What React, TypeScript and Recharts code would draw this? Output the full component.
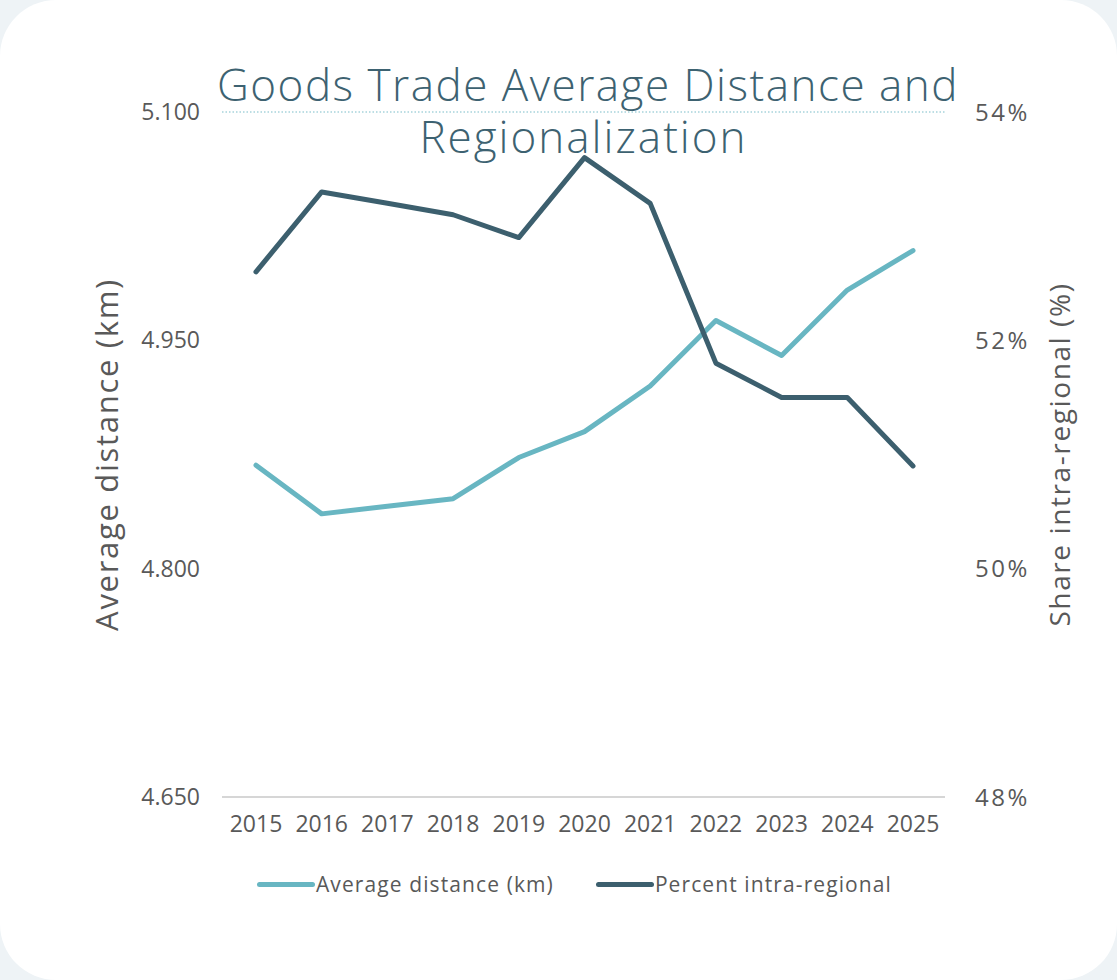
import React from 'react';
import { ComposedChart, Line, XAxis, YAxis, CartesianGrid } from 'recharts';

const years = ['2015', '2016', '2017', '2018', '2019', '2020', '2021', '2022', '2023', '2024', '2025'];
const avgDistance = [4868, 4836, 4841, 4846, 4873, 4890, 4920, 4963, 4940, 4983, 5009];
const intraRegional = [52.6, 53.3, 53.2, 53.1, 52.9, 53.6, 53.2, 51.8, 51.5, 51.5, 50.9];
const leftTicks = [4650, 4800, 4950, 5100];
const rightTicks = [48, 50, 52, 54];

const series = [
  { key: 'distance', name: 'Average distance (km)', color: '#68b6c2', axis: 'left' },
  { key: 'intra', name: 'Percent intra-regional', color: '#3c5f6e', axis: 'right' },
];

const data = years.map((year, i) => ({
  year,
  distance: avgDistance[i],
  intra: intraRegional[i],
}));

const FONT = '"Open Sans", "Noto Sans", sans-serif';
const TICK = { fill: '#595959', fontSize: 23, fontFamily: FONT };

const titleLine = {
  position: 'absolute' as const,
  left: 222,
  width: 723,
  textAlign: 'center' as const,
  color: '#3d6271',
  fontSize: 44,
  letterSpacing: 1.5,
  lineHeight: '44px',
  fontWeight: 300,
  whiteSpace: 'nowrap' as const,
  pointerEvents: 'none' as const,
};

export default function App() {
  return (
    <div
      style={{
        position: 'absolute',
        left: 0,
        top: 0,
        width: 1117,
        height: 980,
        background: '#eef3f6',
        fontFamily: FONT,
      }}
    >
      <div
        style={{
          position: 'absolute',
          left: 0,
          top: 0,
          width: 1117,
          height: 980,
          background: '#ffffff',
          borderRadius: 56,
        }}
      />
      <ComposedChart
        width={1117}
        height={980}
        data={data}
        margin={{ top: 112, right: 0, bottom: 123, left: 0 }}
        style={{ position: 'absolute', left: 0, top: 0 }}
      >
        <CartesianGrid
          vertical={false}
          stroke="#a6d3db"
          strokeWidth={1.5}
          strokeDasharray="1.5 2"
        />
        <XAxis
          dataKey="year"
          height={60}
          padding={{ left: 34, right: 32 }}
          tick={TICK}
          tickLine={false}
          tickSize={0}
          tickMargin={19}
          axisLine={{ stroke: '#d6d6d6', strokeWidth: 2 }}
          interval={0}
        />
        <YAxis
          yAxisId="left"
          orientation="left"
          width={222}
          domain={[4650, 5100]}
          ticks={leftTicks}
          tickFormatter={(v) => (v / 1000).toFixed(3)}
          tick={TICK}
          tickLine={false}
          axisLine={false}
          tickSize={0}
          tickMargin={22}
          label={{
            value: 'Average distance (km)',
            angle: -90,
            position: 'insideLeft',
            offset: 107,
            style: { textAnchor: 'middle', fill: '#595959', fontSize: 31, letterSpacing: 1.7, fontFamily: FONT },
          }}
        />
        <YAxis
          yAxisId="right"
          orientation="right"
          width={172}
          domain={[48, 54]}
          ticks={rightTicks}
          tickFormatter={(v) => `${v}%`}
          tick={{ ...TICK, fontSize: 24, letterSpacing: 2.5 }}
          tickLine={false}
          axisLine={false}
          tickSize={0}
          tickMargin={30}
          label={{
            value: 'Share intra-regional (%)',
            angle: -90,
            position: 'insideRight',
            offset: 57,
            style: { textAnchor: 'middle', fill: '#595959', fontSize: 28, letterSpacing: 1.6, fontFamily: FONT },
          }}
        />
        {series.map((s) => (
          <Line
            key={s.key}
            yAxisId={s.axis}
            dataKey={s.key}
            name={s.name}
            type="linear"
            stroke={s.color}
            strokeWidth={5}
            strokeLinejoin="round"
            strokeLinecap="round"
            dot={false}
            activeDot={false}
            isAnimationActive={false}
          />
        ))}
      </ComposedChart>
      <div style={{ ...titleLine, top: 62, left: 217 }}>Goods Trade Average Distance and</div>
      <div style={{ ...titleLine, top: 114, letterSpacing: 2 }}>Regionalization</div>
      <div
        style={{
          position: 'absolute',
          left: 0,
          top: 870,
          width: 1117,
          display: 'flex',
          justifyContent: 'center',
          gap: 42,
          fontSize: 21,
          letterSpacing: 1.1,
          color: '#595959',
          transform: 'translateX(16px)',
        }}
      >
        {series.map((s) => (
          <div key={s.key} style={{ display: 'flex', alignItems: 'center' }}>
            <span
              style={{
                display: 'inline-block',
                width: 58,
                height: 5,
                borderRadius: 3,
                background: s.color,
                marginRight: 1,
              }}
            />
            <span>{s.name}</span>
          </div>
        ))}
      </div>
    </div>
  );
}
